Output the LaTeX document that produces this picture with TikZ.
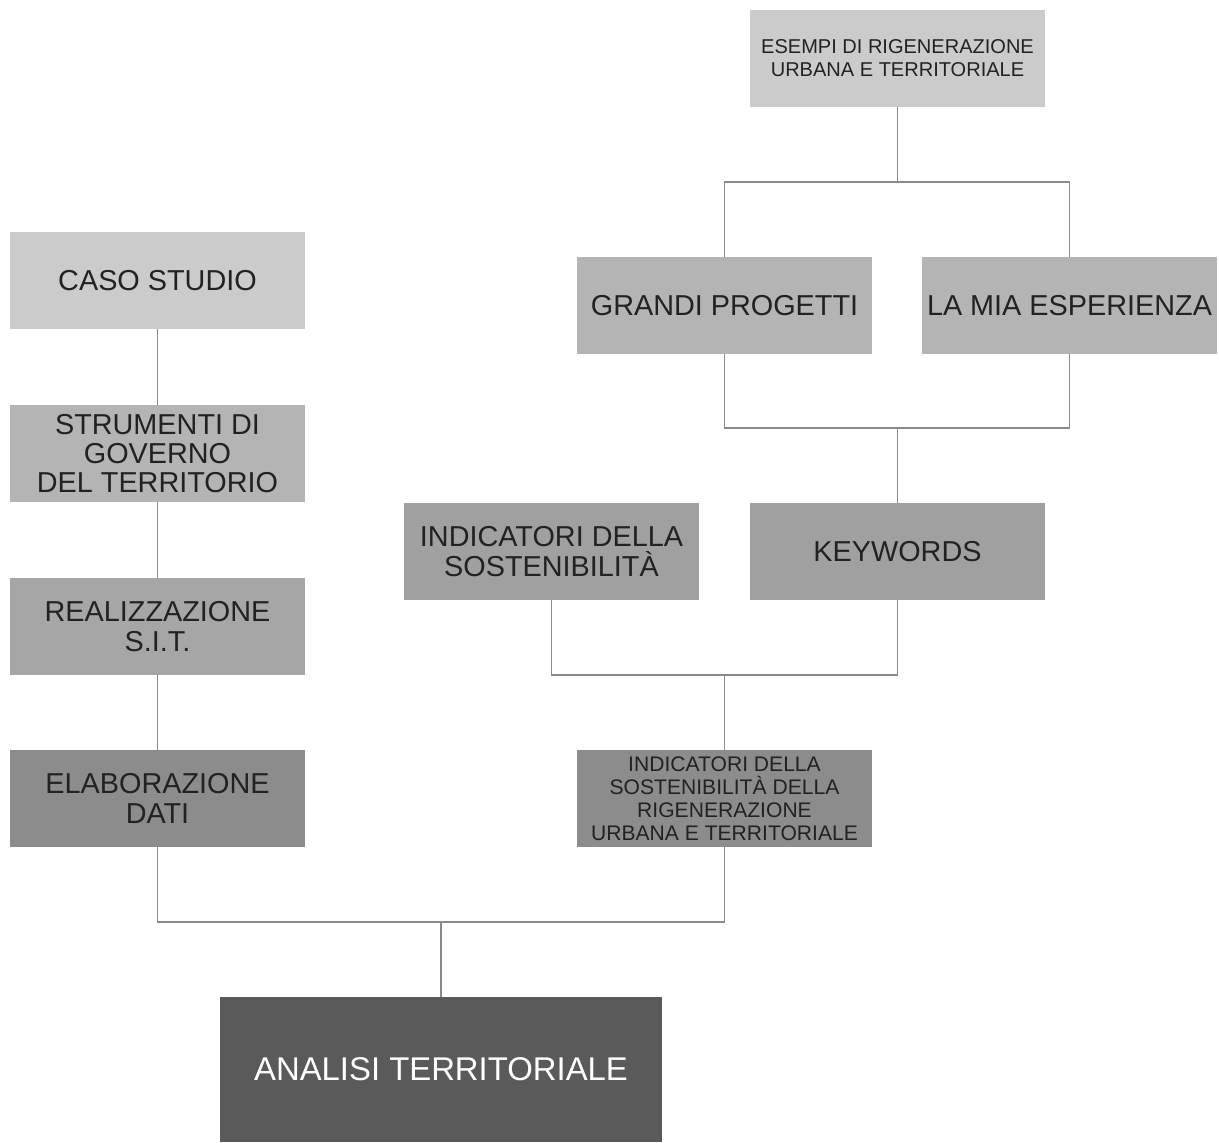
\documentclass[tikz,border=0pt]{standalone}
\usepackage{fontspec}
\setmainfont{Liberation Sans}
\usepackage{tikz}

\definecolor{grigioA}{HTML}{CBCBCB}
\definecolor{grigioB}{HTML}{B4B4B4}
\definecolor{grigioC}{HTML}{A6A6A6}
\definecolor{grigioD}{HTML}{A0A0A0}
\definecolor{grigioE}{HTML}{8C8C8C}
\definecolor{grigioF}{HTML}{5A5A5A}
\definecolor{testo}{HTML}{222222}
\definecolor{linea}{HTML}{8A8A8A}

\begin{document}
\begin{tikzpicture}[x=0.02cm, y=-0.02cm,
    box/.style={minimum width=5.9cm, minimum height=1.94cm, inner sep=0pt,
        align=center, text=testo, font=\fontsize{16.4}{16.6}\selectfont},
    small/.style={font=\fontsize{11.4}{13}\selectfont},
    link/.style={draw=linea, line width=0.8pt}]
    \useasboundingbox (0,0) rectangle (1219,1142);

    % Colonna di destra: esempi
    \node[box, small, fill=grigioA] (esempi) at (897.5,58.5) {ESEMPI DI RIGENERAZIONE\\URBANA E TERRITORIALE};
    \node[box, fill=grigioB] (grandi) at (724.5,305.5) {GRANDI PROGETTI};
    \node[box, fill=grigioB] (esperienza) at (1069.5,305.5) {LA MIA ESPERIENZA};
    \node[box, fill=grigioD] (keywords) at (897.5,551.5) {KEYWORDS};
    \node[box, fill=grigioD] (indicatori) at (551.5,551.5) {INDICATORI DELLA\\SOSTENIBILITÀ};
    \node[box, fill=grigioE, font=\fontsize{12}{13}\selectfont] (indsost) at (724.5,798.5)
        {INDICATORI DELLA\\SOSTENIBILITÀ DELLA\\RIGENERAZIONE\\URBANA E TERRITORIALE};

    % Colonna di sinistra: caso studio
    \node[box, fill=grigioA] (caso) at (157.5,280.5) {CASO STUDIO};
    \node[box, fill=grigioB] (strumenti) at (157.5,453.5) {STRUMENTI DI\\GOVERNO\\DEL TERRITORIO};
    \node[box, fill=grigioC] (sit) at (157.5,626.5) {REALIZZAZIONE\\S.I.T.};
    \node[box, fill=grigioE] (dati) at (157.5,798.5) {ELABORAZIONE\\DATI};

    % Risultato finale
    \node[minimum width=8.84cm, minimum height=2.9cm, inner sep=0pt, fill=grigioF,
        text=white, font=\fontsize{18.7}{20}\selectfont] (analisi) at (441,1069.5) {ANALISI TERRITORIALE};

    % Punti di giunzione
    \coordinate (j1) at (897.5,182);
    \coordinate (j2) at (897.5,428);
    \coordinate (j3) at (724.5,675);
    \coordinate (j4) at (441,922);

    % Collegamenti
    \draw[link] (esempi.south) -- (j1);
    \draw[link] (grandi.north) |- (j1) -| (esperienza.north);
    \draw[link] (grandi.south) |- (j2) -| (esperienza.south);
    \draw[link] (j2) -- (keywords.north);
    \draw[link] (indicatori.south) |- (j3) -| (keywords.south);
    \draw[link] (j3) -- (indsost.north);
    \draw[link] (caso) -- (strumenti);
    \draw[link] (strumenti) -- (sit);
    \draw[link] (sit) -- (dati);
    \draw[link] (dati.south) |- (j4) -| (indsost.south);
    \draw[link] (j4) -- (analisi.north);
\end{tikzpicture}
\end{document}
